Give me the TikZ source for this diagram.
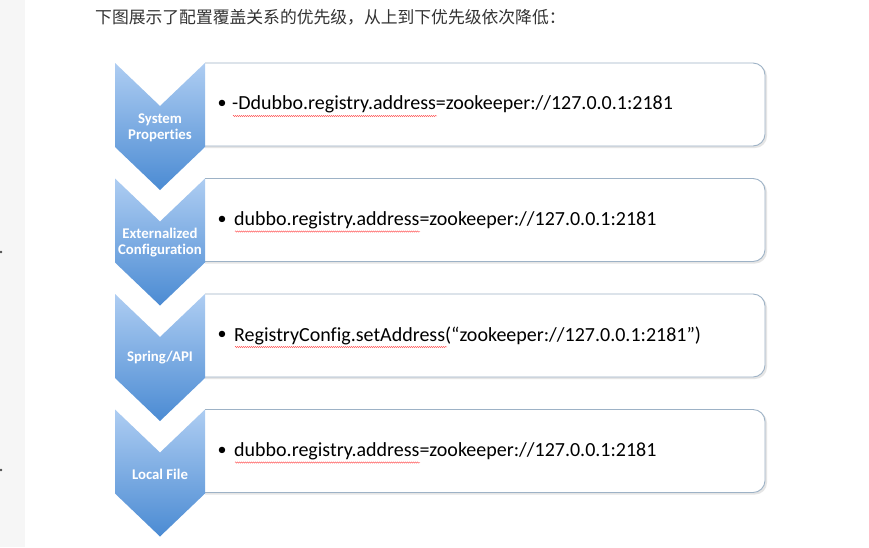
\documentclass[tikz,border=0pt]{standalone}
\usepackage{fontspec}
\setmainfont{Carlito}[Ligatures=NoCommon]
\newfontfamily\cjk{Noto Sans CJK SC}
\usetikzlibrary{decorations.pathmorphing}
\definecolor{chevtop}{HTML}{AECDF2}
\definecolor{chevbot}{HTML}{4B8BD3}
\definecolor{boxline}{HTML}{9DB2C6}
\definecolor{strip}{HTML}{F6F6F6}
\definecolor{headtxt}{HTML}{333333}
\tikzset{
  chevlab/.style={text=white, font=\bfseries\fontsize{14.8}{16}\selectfont, align=center, inner sep=0pt},
  boxtxt/.style={anchor=west, inner sep=0pt, font=\fontsize{20}{24}\selectfont, text=black},
  bul/.style={inner sep=0pt, font=\fontsize{18}{24}\selectfont},
  squig/.style={red!70, line width=0.35pt, decorate, decoration={snake, amplitude=0.7pt, segment length=2pt}},
  boxshape/.style={draw=boxline, line width=0.9pt, fill=white, rounded corners=12pt},
  shadowshape/.style={fill=black!10, rounded corners=12pt},
}
\newcommand\mychev[1]{%
  \path[top color=chevtop, bottom color=chevbot]
    (115,#1) -- (160,#1+43) -- (205,#1) -- (205,#1+84) -- (160,#1+127) -- (115,#1+84) -- cycle;}
\newcommand\mybox[1]{%
  \begin{scope}
    \clip (205,0) rectangle (869,547);
    \path[shadowshape] (190,#1+1.5) rectangle (767,#1+85);
    \path[boxshape] (190,#1) rectangle (765,#1+83);
  \end{scope}}
\begin{document}
\begin{tikzpicture}[x=1pt,y=-1pt]
\useasboundingbox (0,0) rectangle (869,547);
\fill[white] (0,0) rectangle (869,547);
\fill[strip] (0,0) rectangle (25,547);
\fill[black!70] (1,252) circle (1.3);
\fill[black!70] (1,470) circle (1.3);

\node[anchor=west, inner sep=0pt, text=headtxt, font=\cjk\fontsize{16.8}{18}\selectfont] (head) at (95,17) {下图展示了配置覆盖关系的优先级，从上到下优先级依次降低：};

% boxes
\mybox{63}
\mybox{178.5}
\mybox{294}
\mybox{409.5}

% chevrons
\mychev{63}
\mychev{178.5}
\mychev{294}
\mychev{409.5}

\node[chevlab] (c1) at (160,128) {System\\Properties};
\node[chevlab] (c2) at (160,243) {Externalized\\Configuration};
\node[chevlab] (c3) at (160,358) {Spring/API};
\node[chevlab] (c4) at (160,474) {Local File};

% texts
\node[bul] (u1) at (222,104.5) {\textbullet};
\node[boxtxt] (t1) at (232,104.5) {-Ddubbo.registry.address=zookeeper://127.0.0.1:2181};
\node[bul] (u2) at (222,220) {\textbullet};
\node[boxtxt] (t2) at (234,220) {dubbo.registry.address=zookeeper://127.0.0.1:2181};
\node[bul] (u3) at (222,335.5) {\textbullet};
\node[boxtxt] (t3) at (234,335.5) {RegistryConfig.setAddress(“zookeeper://127.0.0.1:2181”)};
\node[bul] (u4) at (222,451) {\textbullet};
\node[boxtxt] (t4) at (234,451) {dubbo.registry.address=zookeeper://127.0.0.1:2181};

% spell-check underlines
\draw[squig] (233,116) -- (437,116);
\draw[squig] (235,231.5) -- (420,231.5);
\draw[squig] (235,347) -- (447,347);
\draw[squig] (235,462.5) -- (420,462.5);
\end{tikzpicture}
\end{document}
